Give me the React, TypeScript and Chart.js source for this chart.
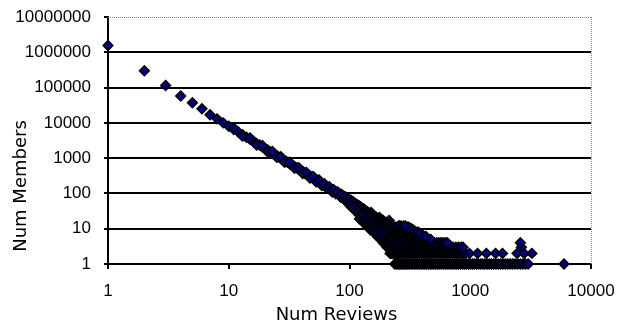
import { useEffect, useRef } from 'react';
import { Chart, registerables } from 'chart.js';

Chart.register(...registerables);

// ---- text ----
const xTitle = 'Num Reviews';
const yTitle = 'Num Members';
const xTickValues = [1, 10, 100, 1000, 10000];
const xTickLabels = ['1', '10', '100', '1000', '10000'];
const yTickValues = [1, 10, 100, 1000, 10000, 100000, 1000000, 10000000];
const yTickLabels = ['1', '10', '100', '1000', '10000', '100000', '1000000', '10000000'];

// ---- data ----
const headReviews = [1, 2, 3, 4, 5, 6, 7, 8, 9, 10, 11, 12, 13, 14, 15, 16, 17, 18, 19, 20, 21, 22, 23, 24, 25, 26, 27, 28, 29, 30];
const headMembers = [1550000, 300000, 115000, 58000, 37000, 25000, 17000, 13000, 10000, 8000, 6500, 5500, 4600, 3900, 3400, 3000, 2600, 2350, 2050, 1850, 1700, 1520, 1400, 1260, 1170, 1080, 990, 930, 850, 800];

const bodyReviews = [31, 32, 33, 34, 35, 36, 37, 38, 39, 40, 41, 42, 43, 44, 45, 46, 47, 48, 49, 50, 51, 52, 53, 54, 55, 56, 57, 58, 59, 60, 61, 62, 63, 64, 65, 66, 67, 68, 69, 70, 71, 72, 73, 74, 75, 76, 77, 78, 79, 80, 81, 82, 83, 84, 85, 86, 87, 88, 89, 90, 91, 92, 93, 94, 95, 96, 97, 98, 99, 100, 72, 85, 90, 95];
const bodyMembers = [750, 690, 650, 615, 575, 540, 515, 480, 460, 440, 410, 395, 370, 355, 340, 330, 305, 300, 280, 275, 258, 250, 238, 232, 218, 215, 200, 198, 188, 180, 178, 168, 165, 155, 158, 146, 148, 138, 136, 128, 132, 122, 124, 115, 118, 108, 112, 104, 106, 98, 101, 94, 96, 88, 92, 84, 87, 80, 84, 76, 80, 72, 76, 69, 73, 66, 70, 63, 67, 60, 110, 78, 68, 58];

const spreadReviews = [11, 13, 15, 17, 19, 21, 23, 25, 27, 29, 32, 35, 38, 41, 44, 47, 50, 53, 56, 59, 62, 65, 68, 71, 74, 77, 80, 83, 86, 89, 92, 95, 98];
const spreadMembers = [7200, 4200, 3750, 2350, 2300, 1520, 1550, 1050, 1100, 760, 770, 515, 535, 365, 395, 275, 305, 212, 240, 168, 188, 140, 155, 117, 128, 98, 110, 85, 94, 74, 81, 64, 70];

const bandReviews = [102, 104, 106, 108, 110, 112, 114, 116, 118, 120, 122, 124, 126, 128, 130, 132, 134, 136, 138, 140, 142, 144, 146, 148, 150, 152, 154, 156, 158, 160, 163, 166, 169, 172, 175, 178, 181, 184, 187, 190, 193, 196, 199, 202, 205, 208, 211, 214, 217, 220, 224, 228, 232, 236, 240, 244, 248, 252, 256, 260,
  121, 130, 140, 150, 160, 170, 177, 190, 200, 214, 151, 177, 213];
const bandMembers = [52, 60, 48, 55, 42, 50, 38, 47, 35, 44, 30, 40, 33, 37, 26, 35, 28, 31, 22, 30, 25, 27, 19, 26, 22, 24, 16, 22, 19, 21, 14, 20, 16, 18, 12, 19, 14, 16, 10, 17, 12, 14, 8, 15, 11, 13, 7, 14, 9, 11, 6, 12, 8, 10, 5, 11, 7, 9, 4, 12,
  19, 15, 12, 9, 8, 6, 6, 4, 4, 3, 29, 21, 17];

const scatterReviews = [101, 103, 105, 107, 109, 111, 113, 115, 117, 119, 121, 123, 125, 127, 129, 131, 133, 135, 137, 139, 141, 143, 145, 147, 149, 151, 153, 155, 157, 159, 161, 163, 165, 167, 169, 171, 173, 175, 177, 179, 181, 183, 185, 187, 189, 191, 193, 195, 197, 199, 201, 203, 205, 207, 209, 211, 213, 215, 217, 219, 221, 223, 225, 227, 229, 231, 233, 235, 237, 239, 241, 243, 245, 247, 249, 251, 253, 255, 257, 259];
const scatterMembers = [45, 64, 40, 58, 36, 53, 31, 49, 28, 45, 24, 42, 22, 38, 19, 36, 17, 33, 15, 31, 14, 29, 12, 27, 11, 26, 10, 24, 9, 23, 8, 22, 8, 21, 7, 20, 7, 19, 6, 18, 6, 17, 5, 16, 5, 16, 4, 15, 4, 15, 4, 14, 3, 13, 3, 13, 3, 12, 2, 12, 2, 11, 2, 10, 3, 9, 2, 8, 1, 7, 2, 6, 1, 5, 2, 6, 3, 5, 2, 4];

const coreReviews = [103, 107, 111, 115, 119, 123, 127, 131, 135, 139, 143, 147, 151, 155, 159, 163, 167, 171, 175, 179, 183, 187, 191, 195, 199, 203, 207, 211, 215, 219, 223, 227, 231, 235, 239, 243, 247, 251, 255, 259];
const coreMembers = [47, 41, 37, 33, 30, 27, 25, 23, 21, 19, 18, 16, 15, 14, 13, 12, 12, 11, 10, 10, 9, 9, 8, 8, 8, 7, 7, 6, 6, 6, 5, 5, 5, 4, 4, 4, 3, 3, 3, 3];

// members count for each tail row, and the review counts seen on that row
const tailCounts = [1, 2, 3, 4, 5, 6, 7, 8, 9, 10, 11, 12];
const tailRows = [
  [252, 258, 265, 272, 280, 288, 296, 305, 314, 324, 334, 345, 356, 368, 380, 393, 406, 420, 435, 450, 466, 482, 500, 518, 537, 556, 577, 598, 620, 643, 667, 692, 718, 745, 773, 802, 832, 863, 895, 930, 965, 1000, 1040, 1080, 1125, 1170, 1220, 1270, 1320, 1380, 1440, 1500, 1560, 1630, 1700, 1780, 1860, 1950, 2040, 2140, 2240, 2350, 2470, 2600, 2730, 2870, 3020, 5980],
  [228, 238, 248, 258, 268, 278, 289, 300, 312, 324, 337, 350, 364, 379, 394, 410, 426, 443, 461, 480, 500, 520, 541, 563, 586, 610, 635, 661, 688, 716, 745, 775, 806, 840, 875, 915, 985, 1150, 1360, 1620, 1850, 2445, 2795, 3240],
  [214, 222, 230, 239, 248, 258, 268, 279, 290, 302, 314, 327, 340, 354, 368, 383, 398, 414, 431, 448, 466, 485, 505, 525, 546, 568, 591, 615, 640, 666, 693, 721, 760, 800, 840, 870, 2650],
  [200, 209, 218, 227, 236, 246, 256, 266, 277, 288, 300, 312, 325, 338, 352, 366, 381, 397, 413, 430, 448, 466, 485, 505, 526, 548, 571, 595, 620, 645, 2600],
  [190, 199, 208, 217, 226, 236, 247, 258, 270, 282, 295, 308, 322, 336, 351, 366, 382, 398, 415, 433, 452, 470],
  [180, 188, 197, 206, 215, 226, 238, 250, 262, 275, 288, 301, 315, 330, 345, 361, 378, 395, 412, 430],
  [185, 195, 205, 216, 228, 240, 252, 265, 278, 291, 305, 320, 335, 350, 366, 382, 395],
  [195, 207, 220, 231, 242, 255, 268, 280, 292, 306, 320, 335, 350, 362, 372],
  [210, 222, 235, 248, 262, 275, 288, 301, 315, 328, 340],
  [225, 238, 250, 261, 272, 286, 300, 312, 325],
  [238, 252, 265, 278, 292, 302, 310],
  [256, 268, 282, 290],
];

const framePlugin = {
  id: 'frame',
  beforeDatasetsDraw(chart: any) {
    const { ctx, chartArea: a } = chart;
    ctx.save();
    ctx.strokeStyle = '#8c8c8c';
    ctx.lineWidth = 1;
    ctx.setLineDash([1, 1]);
    ctx.beginPath();
    const ty = Math.round(a.top) + 0.5;
    const rx = Math.round(a.right) + 0.5;
    ctx.moveTo(a.left, ty);
    ctx.lineTo(a.right + 1, ty);
    ctx.moveTo(rx, a.top);
    ctx.lineTo(rx, a.bottom);
    ctx.stroke();
    ctx.restore();
  },
  afterDraw(chart: any) {
    const { ctx, chartArea: a } = chart;
    ctx.save();
    ctx.fillStyle = '#000';
    ctx.font = '18px "DejaVu Sans"';
    ctx.textAlign = 'center';
    ctx.textBaseline = 'middle';
    ctx.fillText(xTitle, a.left + 228.5, a.bottom + 51.5);
    ctx.translate(21.5, a.top + 169);
    ctx.rotate(-Math.PI / 2);
    ctx.fillText(yTitle, 0, 0);
    ctx.restore();
  },
};

export default function App() {
  const ref = useRef<HTMLCanvasElement | null>(null);

  useEffect(() => {
    document.body.style.margin = '0';
    const canvas = ref.current;
    if (!canvas) return;

    const points: { x: number; y: number }[] = [];
    headReviews.forEach((x, i) => points.push({ x, y: headMembers[i] }));
    bodyReviews.forEach((x, i) => points.push({ x, y: bodyMembers[i] }));
    spreadReviews.forEach((x, i) => points.push({ x, y: spreadMembers[i] }));
    bandReviews.forEach((x, i) => points.push({ x, y: bandMembers[i] }));
    scatterReviews.forEach((x, i) => points.push({ x, y: scatterMembers[i] }));
    coreReviews.forEach((x, i) => points.push({ x, y: coreMembers[i] }));
    tailRows.forEach((row, r) => row.forEach((x) => points.push({ x, y: tailCounts[r] })));

    const tickFont = { family: '"Liberation Sans", Arial, sans-serif', size: 17 };

    const chart = new Chart(canvas, {
      type: 'scatter',
      data: {
        datasets: [
          {
            data: points,
            pointStyle: 'rectRot',
            pointRadius: 4.9,
            pointHoverRadius: 4.9,
            borderWidth: 1.5,
            backgroundColor: '#000080',
            borderColor: '#000000',
            clip: false as any,
          },
        ],
      },
      options: {
        animation: false,
        responsive: false,
        maintainAspectRatio: false,
        devicePixelRatio: 1,
        events: [],
        layout: { padding: { left: 0, right: 37, top: 17, bottom: 0 } },
        plugins: { legend: { display: false }, tooltip: { enabled: false } },
        scales: {
          x: {
            type: 'logarithmic',
            min: 1,
            max: 10000,
            afterBuildTicks: (s: any) => {
              s.ticks = xTickValues.map((v) => ({ value: v }));
            },
            afterFit: (s: any) => {
              s.height = 64;
              s.paddingLeft = 0;
              s.paddingRight = 0;
            },
            ticks: {
              color: '#000',
              font: tickFont,
              padding: 12,
              maxRotation: 0,
              autoSkip: false,
              callback: (v: any) => xTickLabels[xTickValues.indexOf(Number(v))] ?? '',
            },
            grid: {
              drawOnChartArea: false,
              drawTicks: true,
              tickLength: 5,
              tickColor: '#000',
              lineWidth: 2,
              color: '#000',
            },
            border: { display: true, color: '#000', width: 2 },
          },
          y: {
            type: 'logarithmic',
            min: 1,
            max: 10000000,
            afterBuildTicks: (s: any) => {
              s.ticks = yTickValues.map((v) => ({ value: v }));
            },
            afterFit: (s: any) => {
              s.width = 108;
              s.paddingTop = 0;
              s.paddingBottom = 0;
            },
            ticks: {
              color: '#000',
              font: tickFont,
              padding: 13,
              autoSkip: false,
              callback: (v: any) => yTickLabels[yTickValues.indexOf(Number(v))] ?? '',
            },
            grid: {
              drawOnChartArea: true,
              drawTicks: true,
              tickLength: 4,
              tickColor: '#000',
              lineWidth: 2,
              color: (c: any) => (c.tick && c.tick.value === 10000000 ? 'rgba(0,0,0,0)' : '#000'),
            },
            border: { display: true, color: '#000', width: 2 },
          },
        },
      },
      plugins: [framePlugin],
    });

    return () => chart.destroy();
  }, []);

  return <canvas ref={ref} width={628} height={328} style={{ display: 'block' }} />;
}
